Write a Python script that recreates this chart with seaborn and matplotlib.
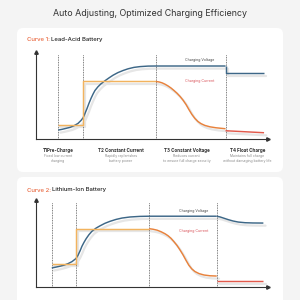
import matplotlib
matplotlib.use("Agg")
import matplotlib.pyplot as plt
import matplotlib.transforms as mtransforms
from matplotlib.patches import FancyBboxPatch
import seaborn as sns

sns.set_theme(style="white")
plt.rcParams['font.family'] = ['Inter', 'DejaVu Sans']

# ---------------- data ----------------
title = "Auto Adjusting, Optimized Charging Efficiency"
curve_names = ["Lead-Acid Battery", "Lithium-Ion Battery"]
phase_titles = ["T1Pre-Charge", "T2 Constant Current", "T3 Constant Voltage", "T4 Float Charge"]
phase_desc = [["Fixed low current", "charging"],
              ["Rapidly replenishes", "battery power"],
              ["Reduces current", "to ensure full charge security"],
              ["Maintains full charge", "without damaging battery life"]]

# Curve 1 (lead-acid): time 0-100, level 0-100
c1_bounds = [9.6, 20.1, 51.7, 81.7]
c1_volt_t = [9.6, 11.2, 12.9, 14.7, 16.4, 18.1, 19.4, 20.3, 21.1, 22.0, 22.8, 23.7, 24.6,
             25.4, 26.7, 28.0, 29.7, 31.5, 33.2, 35.3, 37.5, 39.7, 42.2, 44.8, 48.3, 51.7, 81.7]
c1_volt_v = [10.3, 11.1, 12.2, 13.4, 15.3, 17.9, 21.3, 24.4, 29.3, 35.1, 40.8, 46.6, 51.7,
             55.7, 60.0, 63.4, 66.9, 70.3, 73.3, 76.3, 78.7, 80.7, 82.3, 83.2, 83.8, 83.9, 83.9]
c1_float_v_t = [81.7, 81.7, 98.3]
c1_float_v_v = [83.9, 75.9, 75.9]
c1_cc_t = [9.6, 20.1, 20.1, 51.7]
c1_cc_v = [16.4, 16.4, 66.1, 66.1]
c1_cv_t = [51.7, 53.0, 54.3, 55.6, 56.9, 58.2, 59.5, 60.8, 62.1, 63.4, 64.7, 65.9, 67.2,
           68.5, 69.8, 71.1, 72.8, 75.0, 77.6, 81.7]
c1_cv_v = [66.1, 65.6, 64.6, 63.0, 61.0, 58.6, 55.7, 52.6, 48.9, 44.6, 39.5, 33.9, 28.2,
           23.6, 20.1, 17.7, 15.6, 14.0, 12.9, 11.8]
c1_fl_t = [81.7, 98.3]
c1_fl_v = [9.5, 7.2]

# Curve 2 (lithium-ion)
c2_bounds = [6.8, 17.2, 48.8, 77.9]
c2_volt_t = [6.8, 8.6, 10.3, 12.1, 13.8, 15.5, 17.2, 18.1, 19.0, 19.8, 20.7, 21.6, 22.8,
             24.1, 25.9, 27.6, 29.7, 31.9, 34.5, 37.1, 40.5, 44.8, 48.8, 77.9]
c2_volt_v = [21.6, 22.6, 23.6, 24.9, 26.6, 28.9, 32.4, 36.2, 41.4, 46.6, 51.2, 55.3, 59.9,
             63.9, 67.6, 70.2, 73.1, 75.4, 77.6, 79.2, 80.4, 81.1, 81.3, 81.3]
c2_float_v_t = [77.9, 79.3, 81.0, 82.8, 84.9, 87.1, 90.1, 93.5, 98.0]
c2_float_v_v = [81.3, 80.5, 79.0, 77.4, 75.8, 74.6, 73.8, 73.5, 73.4]
c2_cc_t = [6.8, 17.2, 17.2, 48.8]
c2_cc_v = [26.6, 26.6, 66.9, 66.9]
c2_cv_t = [48.8, 50.4, 52.2, 53.9, 55.6, 56.9, 58.2, 59.5, 60.8, 62.1, 63.4, 64.7, 65.9,
           67.2, 68.5, 70.3, 72.4, 75.0, 77.9]
c2_cv_v = [66.9, 66.3, 65.2, 63.4, 61.1, 58.8, 55.8, 51.8, 47.5, 42.3, 36.6, 30.2, 24.7,
           20.4, 17.5, 15.1, 13.5, 12.6, 12.3]
c2_fl_t = [77.9, 98.0]
c2_fl_v = [6.5, 6.5]

BLUE = "#3d6787"
YEL = "#f2b35e"
ORG = "#e8823c"
RED = "#e25a4c"
SHADOW = "#e6e6e6"
ACCENT = "#e9673f"

fig = plt.figure(figsize=(3, 3), dpi=100)
fig.patch.set_facecolor("#f4f4f4")

bg = fig.add_axes([0, 0, 1, 1])
bg.set_xlim(0, 300)
bg.set_ylim(300, 0)
bg.axis("off")
bg.patch.set_alpha(0)

for (x0, y0, x1, y1) in [(17, 28, 283, 172), (17, 177, 283, 312)]:
    bg.add_patch(FancyBboxPatch((x0, y0), x1 - x0, y1 - y0,
                                boxstyle="round,pad=0,rounding_size=6",
                                fc="white", ec="none"))

bg.text(150, 13, title, ha="center", va="center", fontsize=6.4, color="#333333")

for name, idx, y in [(curve_names[0], 1, 39.5), (curve_names[1], 2, 190)]:
    t1 = bg.text(26.7, y, f"Curve {idx}: ", ha="left", va="center",
                 fontsize=4.3, color=ACCENT, fontweight="medium")
    bg.annotate(name, xy=(1, 0.5), xycoords=t1, ha="left", va="center",
                fontsize=4.3, color="#222222", fontweight="medium")

centers = [58.3, 120.7, 186.7, 247.3]
for cx, pt, pd in zip(centers, phase_titles, phase_desc):
    bg.text(cx, 150.7, pt, ha="center", va="center", fontsize=3.3,
            fontweight="bold", color="#333333")
    bg.text(cx, 156.2, pd[0], ha="center", va="center", fontsize=2.5, color="#8a8a8a")
    bg.text(cx, 161.2, pd[1], ha="center", va="center", fontsize=2.5, color="#8a8a8a")


def panel(rect, bounds, segs, label_pos):
    ax = fig.add_axes(rect)
    ax.set_xlim(0, 100)
    ax.set_ylim(0, 100)
    ax.patch.set_alpha(0)
    sh = mtransforms.offset_copy(ax.transData, fig=fig, x=2.2, y=-2.6, units="dots")
    for t, v, c in segs:
        sns.lineplot(x=t, y=v, ax=ax, color=SHADOW, lw=1.6, sort=False,
                     estimator=None, transform=sh, zorder=1,
                     solid_joinstyle="round", solid_capstyle="round")
    for b in bounds:
        ax.axvline(b, ymin=0, ymax=0.98, color="#555555", lw=0.6,
                   ls=(0, (1, 1)), zorder=2)
    for t, v, c in segs:
        sns.lineplot(x=t, y=v, ax=ax, color=c, lw=1.05, sort=False,
                     estimator=None, zorder=3,
                     solid_joinstyle="round", solid_capstyle="butt")
    for s in ["top", "right"]:
        ax.spines[s].set_visible(False)
    for s in ["left", "bottom"]:
        ax.spines[s].set_color("#333333")
        ax.spines[s].set_linewidth(0.8)
    ax.set_xticks([])
    ax.set_yticks([])
    ax.set_xlabel("")
    ax.set_ylabel("")
    ax.plot(1, 0, ">", color="#333333", ms=2.5, transform=ax.transAxes, clip_on=False)
    ax.plot(0, 1, "^", color="#333333", ms=2.5, transform=ax.transAxes, clip_on=False)
    (vx, vy), (cx, cy) = label_pos
    ax.text(vx, vy, "Charging Voltage", fontsize=2.6, color="#444444",
            ha="center", va="center")
    ax.text(cx, cy, "Charging Current", fontsize=2.6, color="#d9535a",
            ha="center", va="center")
    return ax


segs1 = [(c1_volt_t, c1_volt_v, BLUE), (c1_float_v_t, c1_float_v_v, BLUE),
         (c1_cc_t, c1_cc_v, YEL), (c1_cv_t, c1_cv_v, ORG), (c1_fl_t, c1_fl_v, RED)]
segs2 = [(c2_volt_t, c2_volt_v, BLUE), (c2_float_v_t, c2_float_v_v, BLUE),
         (c2_cc_t, c2_cc_v, YEL), (c2_cv_t, c2_cv_v, ORG), (c2_fl_t, c2_fl_v, RED)]

panel([36 / 300, 1 - 139 / 300, 232 / 300, 87 / 300], c1_bounds, segs1,
      ((70.7, 90.8), (70.7, 67.0)))
panel([36 / 300, 1 - 286.7 / 300, 232 / 300, 86.7 / 300], c2_bounds, segs2,
      ((67.8, 87.0), (67.8, 64.0)))

fig.savefig("out.png", dpi=100, facecolor=fig.get_facecolor())
